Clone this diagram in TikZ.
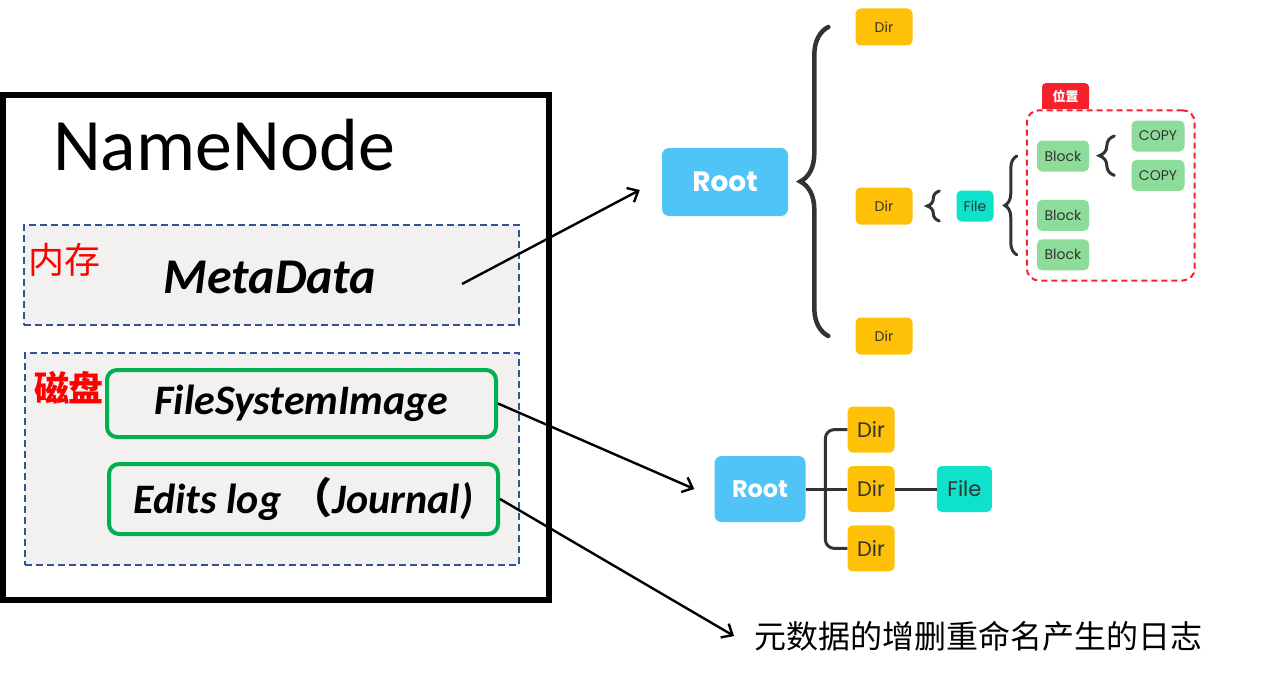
\documentclass[tikz,border=0pt]{standalone}
\usepackage{fontspec}
\setmainfont{Carlito}
\newfontfamily\mapfont{Poppins}
\newfontfamily\cjk{Noto Sans CJK SC}
\usetikzlibrary{arrows.meta, positioning, fit, backgrounds, decorations.pathreplacing}
\definecolor{memfill}{RGB}{242,241,239}
\definecolor{zoneblue}{RGB}{47,85,151}
\definecolor{okgreen}{RGB}{0,176,80}
\definecolor{rootblue}{RGB}{80,196,246}
\definecolor{diramber}{RGB}{255,193,7}
\definecolor{fileteal}{RGB}{14,226,202}
\definecolor{blockgreen}{RGB}{142,220,154}
\definecolor{tagred}{RGB}{245,34,45}
\definecolor{ink}{RGB}{51,51,51}

\begin{document}
\begin{tikzpicture}[x=1pt, y=-1pt,
    zone/.style={rectangle, draw=zoneblue, fill=memfill, line width=1.3pt,
                 dash pattern=on 7pt off 4pt},
    store/.style={rectangle, rounded corners=10pt, draw=okgreen, line width=4pt,
                  fill=memfill, minimum width=389pt, minimum height=67pt,
                  font=\fontsize{42}{48}\selectfont\bfseries\itshape},
    redlbl/.style={text=red, inner sep=0pt, font=\cjk\fontsize{36}{40}\selectfont},
    mnode/.style={rectangle, rounded corners=5pt, inner sep=0pt, text=ink,
                  font=\mapfont\fontsize{14}{16}\selectfont},
    rootbox/.style={mnode, rounded corners=7pt, fill=rootblue, text=white,
                    font=\mapfont\bfseries\fontsize{28}{32}\selectfont},
    dirbox/.style={mnode, fill=diramber, minimum width=57pt, minimum height=37pt},
    filebox/.style={mnode, fill=fileteal, minimum width=37pt, minimum height=31pt},
    blkbox/.style={mnode, fill=blockgreen, minimum width=52pt, minimum height=31pt},
    bigtxt/.style={font=\mapfont\fontsize{21}{24}\selectfont},
    curly/.style={decorate, decoration={brace, amplitude=#1}, draw=ink,
                  line width=3pt, line cap=round},
    conn/.style={draw=ink, line width=3pt},
    arr/.style={-{Straight Barb[length=9pt, width=16pt]}, line width=2.4pt},
    node distance=8pt
  ]
  \useasboundingbox (0,0) rectangle (1285,677);

  % NameNode side
  \node[draw, line width=6pt, minimum width=546pt, minimum height=505pt] (nn) at (276,347.5) {};
  \node[anchor=base, font=\fontsize{74}{80}\selectfont] (nntitle) at (224,170) {NameNode};
  \node[zone, minimum width=495pt, minimum height=100pt] (mem) at (271.5,275) {};
  \node[zone, minimum width=494pt, minimum height=212pt] (disk) at (272,459) {};
  \node[redlbl] (memlbl) at (64,260) {内存};
  \node[redlbl, font=\cjk\bfseries\fontsize{35}{40}\selectfont] (disklbl) at (69,388) {磁盘};
  \node[anchor=base, font=\fontsize{50}{56}\selectfont\bfseries\itshape] (meta) at (270,293) {MetaData};
  \node[store] (fsi) at (301.5,403.5) {FileSystemImage};
  \node[store, minimum height=70pt] (edits) at (303.5,499) {Edits log {\cjk\bfseries （}Journal)};
  \coordinate (mdtail) at (462,284);

  % tree with braces
  \node[rootbox, minimum width=126pt, minimum height=68pt] (rootA) at (725,182) {Root};
  \node[dirbox] (dirA) at (884,27) {Dir};
  \node[dirbox] (dirB) at (884,206) {Dir};
  \node[dirbox] (dirC) at (884,336) {Dir};
  \node[filebox] (fileA) at (975,206) {File};
  \node[blkbox] (blkA) at (1063,156) {Block};
  \node[blkbox, below=28pt of blkA] (blkB) {Block};
  \node[blkbox, below=of blkB] (blkC) {Block};
  \node[blkbox, minimum width=53pt] (copyA) at (1158,136) {COPY};
  \node[blkbox, minimum width=53pt, below=of copyA] (copyB) {COPY};
  \node[fit=(blkA)(blkC)(copyA)(copyB), inner sep=10pt, draw=tagred, line width=2pt,
        dash pattern=on 6pt off 4pt, rounded corners=12pt] (pos) {};
  \node[anchor=south west, fill=tagred, rounded corners=4pt, minimum width=47pt,
        minimum height=26pt, inner sep=0pt, text=white,
        font=\cjk\bfseries\fontsize{13}{15}\selectfont] (tag) at ([xshift=16pt]pos.north west) {位置};
  \begin{scope}[on background layer]
    \fill[tagred] (tag.west) rectangle (tag.south east);
  \end{scope}

  \draw[curly=28pt, line width=4.5pt] ([xshift=-27pt]dirC.west) -- ([xshift=-27pt]dirA.west);
  \draw[curly=12pt] ([xshift=-17pt, yshift=-15pt]fileA.west) -- ([xshift=-17pt, yshift=15pt]fileA.west);
  \draw[curly=12pt] ([xshift=-20pt]blkC.west) -- ([xshift=-20pt]blkA.west);
  \draw[curly=15pt] ([xshift=-17pt]copyB.west) -- ([xshift=-17pt]copyA.west);

  % tree with lines
  \node[rootbox, minimum width=91pt, minimum height=66pt,
        font=\mapfont\bfseries\fontsize{24}{28}\selectfont] (rootB) at (760,489) {Root};
  \node[dirbox, bigtxt, minimum width=47pt, minimum height=46pt] (dirE) at (871,489) {Dir};
  \node[dirbox, bigtxt, minimum width=47pt, minimum height=46pt, above=13pt of dirE] (dirD) {Dir};
  \node[dirbox, bigtxt, minimum width=47pt, minimum height=46pt, below=13pt of dirE] (dirF) {Dir};
  \node[filebox, bigtxt, minimum width=55pt, minimum height=46pt, right=42pt of dirE] (fileB) {File};
  \draw[conn] (rootB) -- (dirE);
  \draw[conn] (dirE) -- (fileB);
  \draw[conn, rounded corners=9pt] (dirD.west) -| ([xshift=-22pt]dirE.west) |- (dirF.west);

  % note
  \node[anchor=west, inner sep=2pt, font=\cjk\fontsize{32}{36}\selectfont] (note) at (752,636)
    {元数据的增删重命名产生的日志};

  \draw[arr] (mdtail) -- ([xshift=-22pt, yshift=-8pt]rootA.west);
  \draw[arr] (fsi.east) -- ([xshift=-20pt]rootB.west);
  \draw[arr] (edits.east) -- ([xshift=-18pt]note.west);
\end{tikzpicture}
\end{document}
